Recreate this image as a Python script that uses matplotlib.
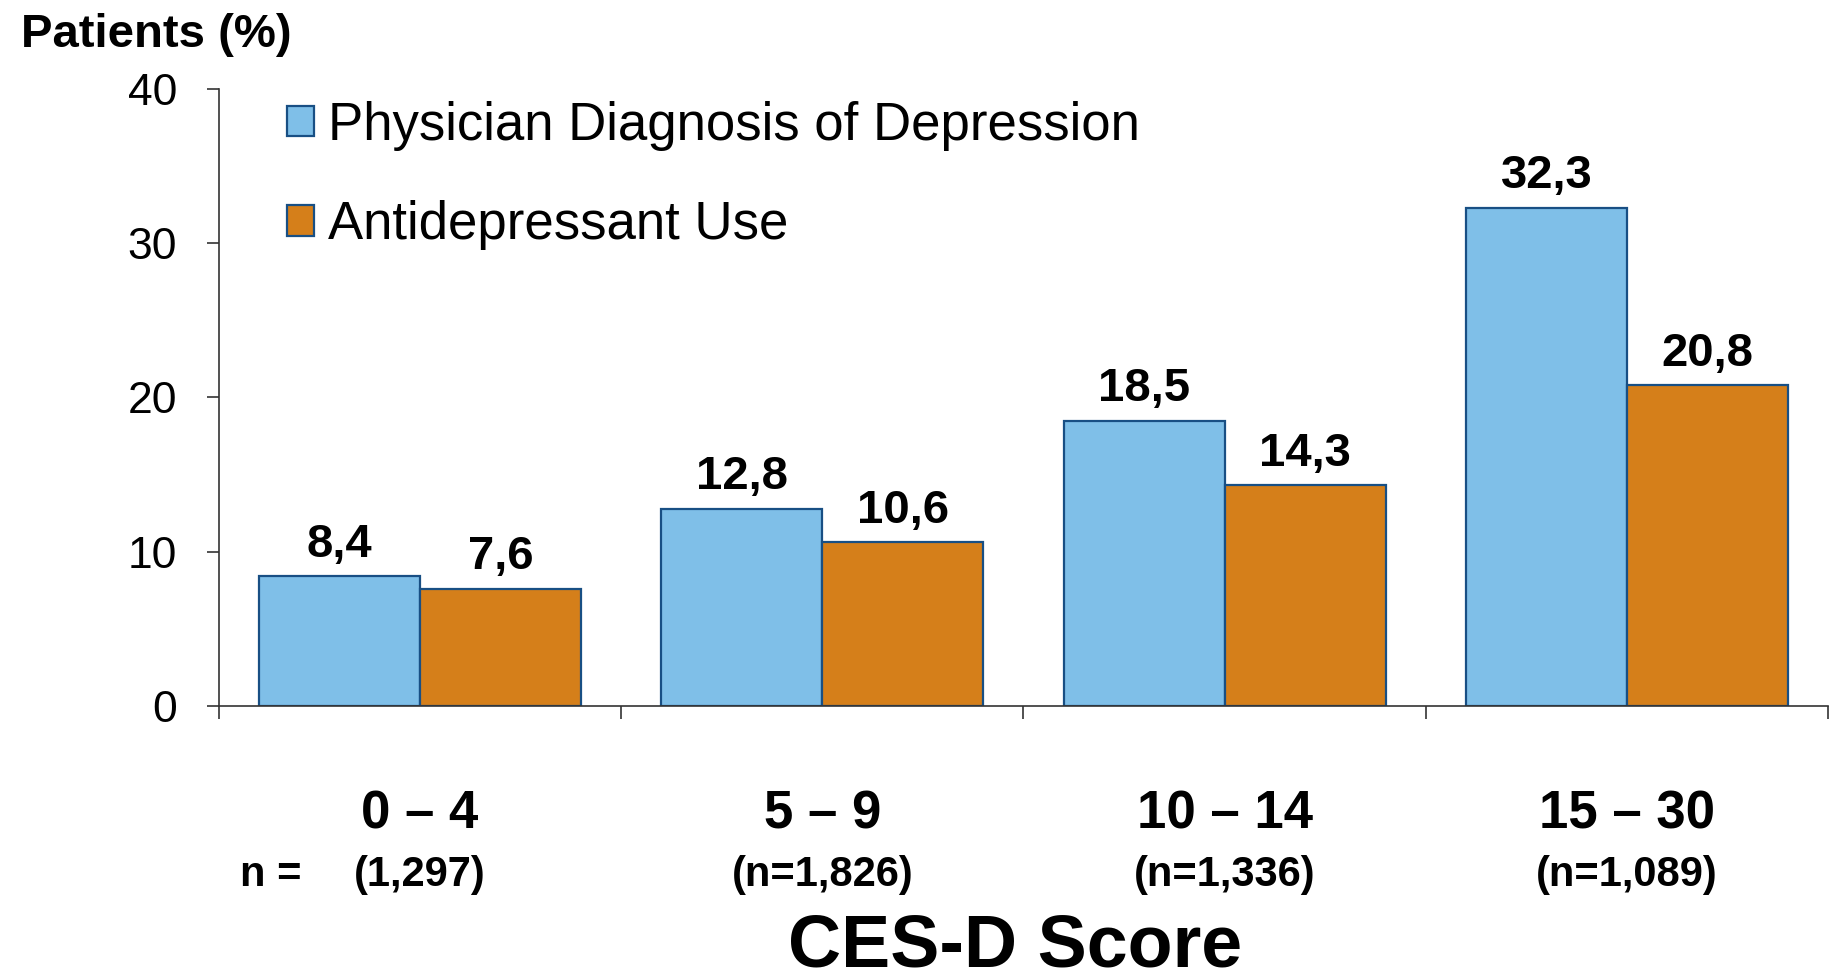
import numpy as np
import matplotlib
matplotlib.use('Agg')
import matplotlib.pyplot as plt
import matplotlib.transforms as mtransforms

plt.rcParams['font.family'] = ['Liberation Sans', 'DejaVu Sans']

categories = ['0 – 4', '5 – 9', '10 – 14', '15 – 30']
n_labels = ['(1,297)', '(n=1,826)', '(n=1,336)', '(n=1,089)']
diagnosis = [8.4, 12.8, 18.5, 32.3]
antidepressant = [7.6, 10.6, 14.3, 20.8]
series_names = ['Physician Diagnosis of Depression', 'Antidepressant Use']

blue = '#7FBFE8'
orange = '#D57F1A'
edge = '#184F84'

fig = plt.figure(figsize=(18.35, 9.74), dpi=100)
ax = fig.add_axes([0.1193, 0.2752, 0.9962 - 0.1193, 0.9086 - 0.2752])

x = np.arange(len(categories))
w = 0.4
b1 = ax.bar(x - w / 2, diagnosis, w, color=blue, edgecolor=edge, linewidth=1.6,
            label=series_names[0])
b2 = ax.bar(x + w / 2, antidepressant, w, color=orange, edgecolor=edge, linewidth=1.6,
            label=series_names[1])

# value labels with decimal comma
for bars, vals in ((b1, diagnosis), (b2, antidepressant)):
    for rect, v in zip(bars, vals):
        ax.annotate(f'{v:.1f}'.replace('.', ','),
                    (rect.get_x() + rect.get_width() / 2, v),
                    xytext=(0, 14), textcoords='offset points',
                    ha='center', va='baseline', fontsize=34, fontweight='bold')

ax.set_xlim(-0.5, len(categories) - 0.5)
ax.set_ylim(0, 40)
ax.set_yticks([0, 10, 20, 30, 40])
ax.tick_params(axis='y', labelsize=32, length=9, width=1.2, pad=21, color='#333333')
ax.set_xticks(np.arange(len(categories) + 1) - 0.5)
ax.set_xticklabels([])
ax.tick_params(axis='x', length=9, width=1.2, color='#333333')

for s in ('top', 'right'):
    ax.spines[s].set_visible(False)
for s in ('left', 'bottom'):
    ax.spines[s].set_linewidth(1.2)
    ax.spines[s].set_color('#333333')

# category labels under the axis
trans = mtransforms.blended_transform_factory(ax.transData, fig.transFigure)
for xi, cat, nl in zip(x, categories, n_labels):
    ax.text(xi, 0.1489, cat, transform=trans, ha='center', va='baseline',
            fontsize=38, fontweight='bold')
    ax.text(xi, 0.0903, nl, transform=trans, ha='center', va='baseline',
            fontsize=30, fontweight='bold')
fig.text(0.1477, 0.0903, 'n =', ha='center', va='baseline', fontsize=30, fontweight='bold')

fig.text(0.553, 0.0075, 'CES-D Score', ha='center', va='baseline',
         fontsize=53, fontweight='bold')
fig.text(0.0114, 0.9517, 'Patients (%)', ha='left', va='baseline',
         fontsize=34, fontweight='bold')

ax.legend(loc='upper left', bbox_to_anchor=(287 / 1835, 1 - 101 / 974),
          bbox_transform=fig.transFigure, frameon=False, fontsize=38,
          handlelength=0.51, handleheight=0.51, handletextpad=0.27,
          labelspacing=0.93, borderpad=0, borderaxespad=0)

fig.savefig('out.png', dpi=100)
